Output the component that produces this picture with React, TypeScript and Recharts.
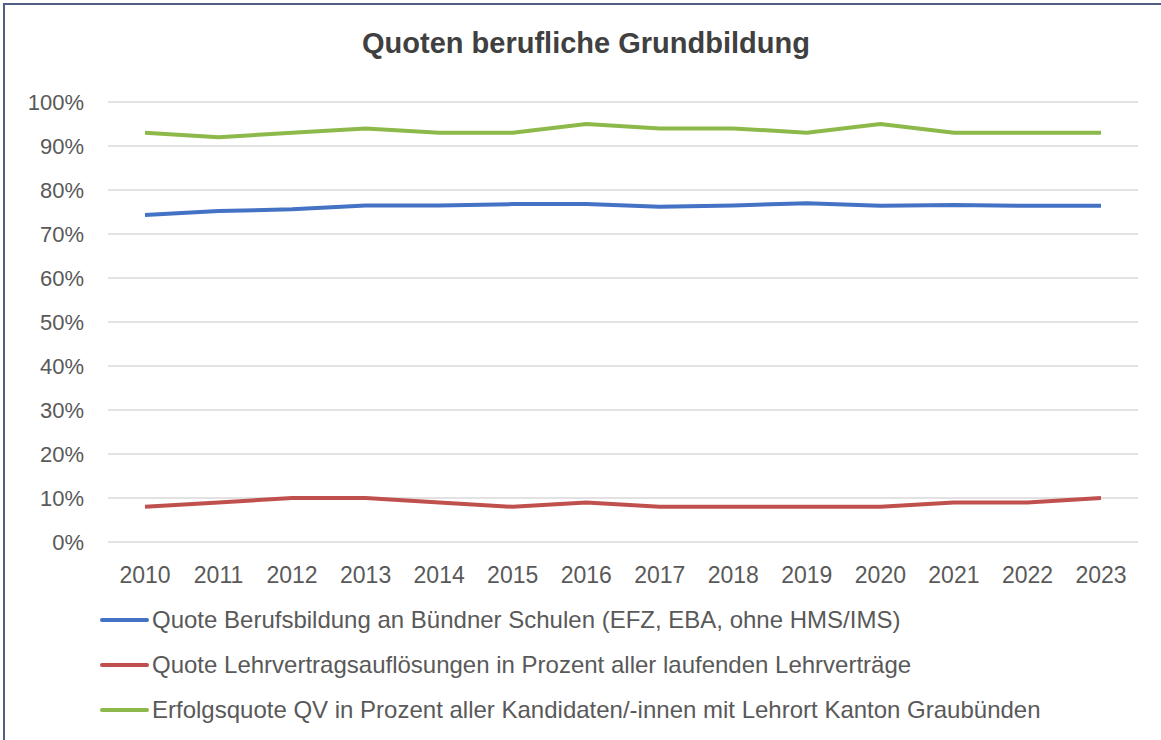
import { LineChart, Line, XAxis, YAxis, CartesianGrid } from "recharts";

// Quoten berufliche Grundbildung, Kanton Graubünden 2010–2023 (values in %)
const years = [
  "2010", "2011", "2012", "2013", "2014", "2015", "2016",
  "2017", "2018", "2019", "2020", "2021", "2022", "2023",
];
const berufsbildung = [74.3, 75.2, 75.6, 76.5, 76.5, 76.8, 76.8, 76.2, 76.5, 77.0, 76.4, 76.6, 76.4, 76.4];
const aufloesungen = [8, 9, 10, 10, 9, 8, 9, 8, 8, 8, 8, 9, 9, 10];
const erfolgsquote = [93, 92, 93, 94, 93, 93, 95, 94, 94, 93, 95, 93, 93, 93];
const yTicks = [0, 10, 20, 30, 40, 50, 60, 70, 80, 90, 100];

const series = [
  { key: "berufsbildung", color: "#4472c4", name: "Quote Berufsbildung an Bündner Schulen (EFZ, EBA, ohne HMS/IMS)" },
  { key: "aufloesungen", color: "#c0504d", name: "Quote Lehrvertragsauflösungen in Prozent aller laufenden Lehrverträge" },
  { key: "erfolgsquote", color: "#8db84a", name: "Erfolgsquote QV in Prozent aller Kandidaten/-innen mit Lehrort Kanton Graubünden" },
];

const data = years.map((year, i) => ({
  year,
  berufsbildung: berufsbildung[i],
  aufloesungen: aufloesungen[i],
  erfolgsquote: erfolgsquote[i],
}));

const FONT = "'Liberation Sans', Arial, sans-serif";
const TEXT = "#595959";

export default function App() {
  return (
    <div
      style={{
        position: "absolute",
        left: 0,
        top: 0,
        width: 1161,
        height: 740,
        background: "#fff",
        fontFamily: FONT,
        overflow: "hidden",
      }}
    >
      <div
        style={{
          position: "absolute",
          left: 3,
          top: 3,
          width: 1170,
          height: 760,
          border: "2px solid #4f5f86",
          boxSizing: "border-box",
        }}
      />
      <div
        style={{
          position: "absolute",
          top: 27,
          left: 0,
          width: 1172,
          textAlign: "center",
          fontSize: 29,
          fontWeight: 700,
          color: "#404040",
        }}
      >
        Quoten berufliche Grundbildung
      </div>
      <div style={{ position: "absolute", left: 0, top: 0 }}>
        <LineChart
          width={1161}
          height={740}
          data={data}
          margin={{ top: 102, right: 23, bottom: 158, left: 0 }}
        >
          <CartesianGrid vertical={false} stroke="#d9d9d9" strokeWidth={1.5} />
          <XAxis
            dataKey="year"
            axisLine={false}
            tickLine={false}
            tickSize={0}
            tickMargin={25}
            height={40}
            padding={{ left: 37, right: 37 }}
            interval={0}
            tick={{ fontSize: 23, fill: TEXT, fontFamily: FONT }}
          />
          <YAxis
            domain={[0, 100]}
            ticks={yTicks}
            tickFormatter={(v) => `${v}%`}
            axisLine={false}
            tickLine={false}
            tickSize={0}
            tickMargin={24}
            width={108}
            interval={0}
            tick={{ fontSize: 22, fill: TEXT, fontFamily: FONT }}
          />
          {series.map((s) => (
            <Line
              key={s.key}
              type="linear"
              dataKey={s.key}
              name={s.name}
              stroke={s.color}
              strokeWidth={4}
              dot={false}
              isAnimationActive={false}
            />
          ))}
        </LineChart>
      </div>
      <div style={{ position: "absolute", left: 100, top: 597 }}>
        {series.map((s) => (
          <div
            key={s.key}
            style={{ display: "flex", alignItems: "center", height: 45, whiteSpace: "nowrap" }}
          >
            <div style={{ width: 49, height: 4, background: s.color, borderRadius: 2, marginRight: 3 }} />
            <span style={{ fontSize: 24, color: TEXT }}>{s.name}</span>
          </div>
        ))}
      </div>
    </div>
  );
}
